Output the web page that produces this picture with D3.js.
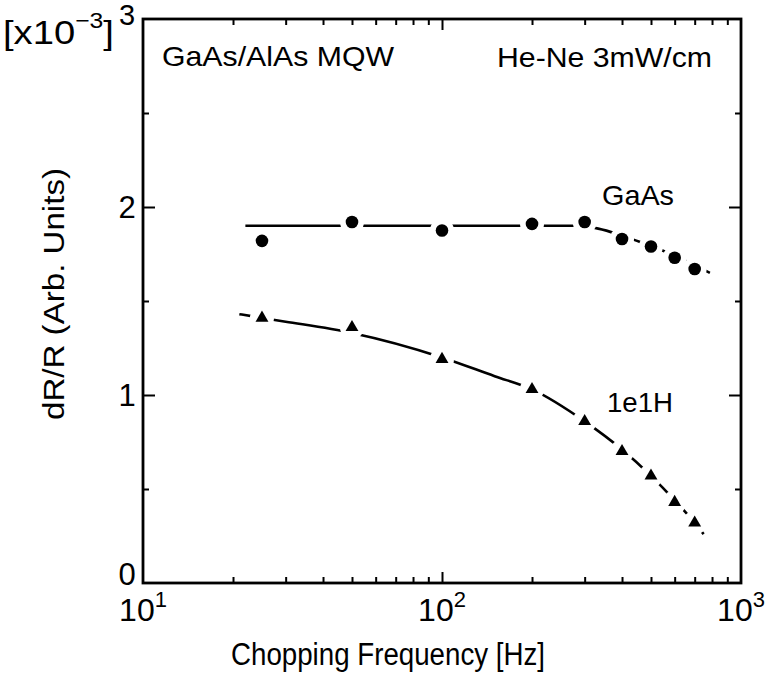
<!DOCTYPE html>
<html>
<head>
<meta charset="utf-8">
<script src="https://cdn.jsdelivr.net/npm/d3@7"></script>
<style>
  html, body { margin: 0; padding: 0; background: #fff; }
  svg { display: block; }
  text { font-family: "Liberation Sans", Arial, sans-serif; fill: #000; }
</style>
</head>
<body>
<svg id="chart" width="769" height="676"></svg>
<script>
// ---- data ----
const gaasFreq   = [25, 50, 100, 200, 300, 400, 500, 600, 700];
const gaasValues = [1.82, 1.92, 1.875, 1.91, 1.92, 1.83, 1.79, 1.73, 1.67];

const e1hFreq    = [25, 50, 100, 200, 300, 400, 500, 600, 700];
const e1hValues  = [1.41, 1.36, 1.19, 1.03, 0.86, 0.70, 0.57, 0.43, 0.32];

const gaasFitFreq   = [22, 50, 100, 200, 280, 333, 388, 439, 544, 640, 787];
const gaasFitValues = [1.90, 1.90, 1.90, 1.90, 1.90, 1.885, 1.855, 1.825, 1.77, 1.72, 1.65];

const e1hFitFreq    = [21, 25, 30, 50, 100, 150, 200, 300, 400, 500, 600, 700, 750];
const e1hFitValues  = [1.43, 1.41, 1.39, 1.33, 1.20, 1.10, 1.03, 0.86, 0.71, 0.57, 0.44, 0.32, 0.26];

const xMajorTicks = [10, 100, 1000];
const xMinorTicks = [20, 30, 40, 50, 60, 70, 80, 90, 200, 300, 400, 500, 600, 700, 800, 900];
const xTickExponents = ["1", "2", "3"];
const yMajorTicks = [0, 1, 2, 3];
const yMinorTicks = [0.5, 1.5, 2.5];

// ---- layout ----
const L = 143, R = 741, T = 19, B = 583;
const svg = d3.select("#chart");
const x = d3.scaleLog().domain([10, 1000]).range([L, R]);
const y = d3.scaleLinear().domain([0, 3]).range([B, T]);

// ---- axes (ticks inward) ----
function styleAxis(g) {
  g.select(".domain").remove();
  g.selectAll(".tick line").attr("stroke", "#000").attr("stroke-width", 2);
  g.selectAll(".tick text").remove();
}
svg.append("g").attr("transform", `translate(0,${B})`)
  .call(d3.axisBottom(x).tickValues(xMinorTicks).tickSize(-6).tickFormat("")).call(styleAxis);
svg.append("g").attr("transform", `translate(0,${B})`)
  .call(d3.axisBottom(x).tickValues([100]).tickSize(-11).tickFormat("")).call(styleAxis);
svg.append("g").attr("transform", `translate(0,${T})`)
  .call(d3.axisTop(x).tickValues(xMinorTicks).tickSize(-6).tickFormat("")).call(styleAxis);
svg.append("g").attr("transform", `translate(0,${T})`)
  .call(d3.axisTop(x).tickValues([100]).tickSize(-11).tickFormat("")).call(styleAxis);
svg.append("g").attr("transform", `translate(${L},0)`)
  .call(d3.axisLeft(y).tickValues([1, 2]).tickSize(-12).tickFormat("")).call(styleAxis);
svg.append("g").attr("transform", `translate(${L},0)`)
  .call(d3.axisLeft(y).tickValues(yMinorTicks).tickSize(-6).tickFormat("")).call(styleAxis);
svg.append("g").attr("transform", `translate(${R},0)`)
  .call(d3.axisRight(y).tickValues([1, 2]).tickSize(-12).tickFormat("")).call(styleAxis);
svg.append("g").attr("transform", `translate(${R},0)`)
  .call(d3.axisRight(y).tickValues(yMinorTicks).tickSize(-6).tickFormat("")).call(styleAxis);

// frame
svg.append("rect").attr("x", L).attr("y", T).attr("width", R - L).attr("height", B - T)
  .attr("fill", "none").attr("stroke", "#000").attr("stroke-width", 2.8);

// ---- tick labels ----
xMajorTicks.forEach((v, i) => {
  const t = svg.append("text").attr("x", x(v)).attr("y", 621)
    .attr("text-anchor", "middle").attr("font-size", 32);
  t.append("tspan").text("10");
  t.append("tspan").attr("dy", -14).attr("font-size", 22).text(xTickExponents[i]);
});
const yLabelPos = {0: 585, 1: y(1) + 11, 2: y(2) + 11, 3: 25};
yMajorTicks.forEach(v => {
  svg.append("text").attr("x", 127).attr("y", yLabelPos[v])
    .attr("text-anchor", "middle").attr("font-size", v === 3 ? 29 : 31).text(v);
});

// multiplier label
const mult = svg.append("text").attr("x", 3).attr("y", 44).attr("font-size", 34)
  .attr("textLength", 111).attr("lengthAdjust", "spacingAndGlyphs");
mult.append("tspan").text("[x10");
mult.append("tspan").attr("dy", -16).attr("font-size", 22).text("−3");
mult.append("tspan").attr("dy", 16).text("]");

// axis titles
svg.append("text").attr("x", 231).attr("y", 665).attr("font-size", 31)
  .attr("textLength", 314).attr("lengthAdjust", "spacingAndGlyphs")
  .text("Chopping Frequency [Hz]");
svg.append("text").attr("transform", "translate(64,294) rotate(-90)")
  .attr("text-anchor", "middle").attr("font-size", 30)
  .attr("textLength", 252).attr("lengthAdjust", "spacingAndGlyphs")
  .text("dR/R (Arb. Units)");

// annotations
svg.append("text").attr("x", 162).attr("y", 66).attr("font-size", 28)
  .attr("textLength", 232).attr("lengthAdjust", "spacingAndGlyphs").text("GaAs/AlAs MQW");
svg.append("text").attr("x", 497).attr("y", 67).attr("font-size", 28)
  .attr("textLength", 215).attr("lengthAdjust", "spacingAndGlyphs").text("He-Ne 3mW/cm");
svg.append("text").attr("x", 602).attr("y", 205).attr("font-size", 28)
  .attr("textLength", 72).attr("lengthAdjust", "spacingAndGlyphs").text("GaAs");
svg.append("text").attr("x", 607).attr("y", 412).attr("font-size", 28)
  .attr("textLength", 66).attr("lengthAdjust", "spacingAndGlyphs").text("1e1H");

// ---- fit curves ----
const line = d3.line().x(d => x(d[0])).y(d => y(d[1])).curve(d3.curveMonotoneX);
const gaasFit = gaasFitFreq.map((f, i) => [f, gaasFitValues[i]]);
const e1hFit = e1hFitFreq.map((f, i) => [f, e1hFitValues[i]]);
svg.append("path").datum(gaasFit).attr("d", line)
  .attr("fill", "none").attr("stroke", "#000").attr("stroke-width", 2.6);
svg.append("path").datum(e1hFit).attr("d", line)
  .attr("fill", "none").attr("stroke", "#000").attr("stroke-width", 2.6);

// knockouts around markers (gaps in the lines)
const gaasPts = gaasFreq.map((f, i) => [f, gaasValues[i]]);
const e1hPts = e1hFreq.map((f, i) => [f, e1hValues[i]]);
svg.append("g").selectAll("circle").data(gaasPts.concat(e1hPts)).join("circle")
  .attr("cx", d => x(d[0])).attr("cy", d => y(d[1])).attr("r", 12).attr("fill", "#fff");

// markers
svg.append("g").selectAll("circle").data(gaasPts).join("circle")
  .attr("cx", d => x(d[0])).attr("cy", d => y(d[1])).attr("r", 6.3).attr("fill", "#000");
const tri = d3.symbol().type(d3.symbolTriangle).size(72);
svg.append("g").selectAll("path").data(e1hPts).join("path")
  .attr("transform", d => `translate(${x(d[0])},${y(d[1])})`)
  .attr("d", tri).attr("fill", "#000");
</script>
</body>
</html>
